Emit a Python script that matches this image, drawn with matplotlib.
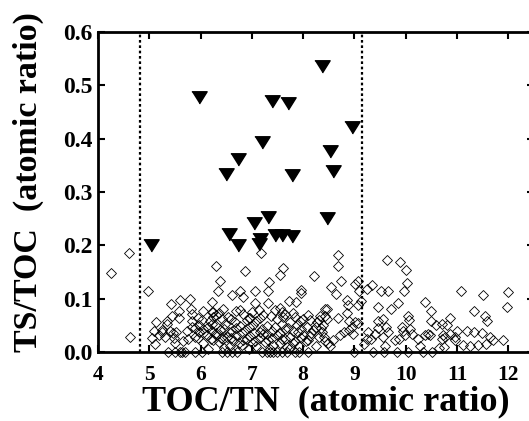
import matplotlib
matplotlib.use('Agg')
import matplotlib.pyplot as plt

plt.rcParams['font.family'] = 'Liberation Serif'
plt.rcParams['font.weight'] = 'bold'

# filled triangles
tri_x = [8.37, 5.97, 7.39, 7.71, 8.95, 7.20, 8.53, 6.72, 6.49, 7.79, 8.59,
         7.32, 8.46, 7.04, 6.55, 7.45, 7.58, 7.78, 7.16, 7.14, 6.73, 5.03]
tri_y = [0.537, 0.479, 0.470, 0.466, 0.421, 0.394, 0.376, 0.362, 0.334, 0.331, 0.339,
         0.254, 0.251, 0.242, 0.222, 0.219, 0.219, 0.218, 0.211, 0.202, 0.200, 0.200]

# open diamonds
dia_x = [4.25, 4.60, 4.62, 4.97,
         5.42, 5.58, 5.81, 5.83, 5.45, 5.57, 5.14, 5.34, 5.83, 6.02, 5.10, 5.24, 5.05, 5.18,
         5.31, 5.40, 5.49, 5.53, 5.50, 5.73, 5.83, 5.89, 5.96, 5.76, 5.96, 6.05, 6.12, 6.22,
         6.22, 5.66, 5.60, 5.79, 5.12, 5.24, 5.35, 5.47,
         7.17, 6.31, 6.87, 7.60, 7.54, 6.38, 7.34, 6.33, 6.76, 6.61, 6.83, 7.07, 7.32, 7.95,
         7.95, 8.22, 7.72, 7.86, 8.42, 7.06, 7.32, 7.55, 6.77, 6.22, 6.44, 8.10, 7.13, 7.58,
         6.25,
         6.31, 6.54, 6.83, 6.96, 7.22, 7.38, 7.65, 7.84, 8.33,
         6.18, 6.41, 6.67, 6.90, 7.09, 7.48, 7.74, 7.94, 8.13, 8.26, 8.46,
         6.28, 6.48, 6.77, 7.03, 7.29, 7.58, 7.87, 8.07, 8.39,
         6.22, 6.38, 6.61, 6.87, 7.16, 7.39, 7.65, 7.81, 8.20, 8.36,
         6.31, 6.51, 6.70, 6.96, 7.22, 7.48, 7.74, 8.00, 8.13, 8.30,
         6.25, 6.44, 6.64, 6.83, 7.06, 7.32, 7.58, 7.84, 8.10, 8.42,
         6.57, 6.80, 7.09, 7.42, 7.68, 7.91,
         6.05, 6.35, 6.70, 7.00, 7.45, 7.80,
         5.95, 6.25, 6.60, 6.95, 7.15, 7.60, 8.00,
         5.90, 6.15, 6.45, 6.70, 6.95, 7.20, 7.45, 7.70, 7.95, 8.25,
         6.05, 6.30, 6.55, 6.80, 7.05, 7.30, 7.55, 7.90,
         5.95, 6.20, 6.40, 6.60, 6.90, 7.15, 7.40, 7.65, 7.95,
         6.05, 6.35, 6.75, 7.00, 7.25, 7.55, 7.80,
         6.15, 6.45, 6.95, 7.35, 7.75,
         8.05, 8.15, 8.25, 8.35, 8.40, 8.30,
         8.68, 8.68, 8.73, 8.54, 8.64, 9.01, 9.07, 9.09, 9.24, 9.35, 9.63, 9.89, 10.00, 10.02,
         9.96, 9.51, 9.65, 8.85, 8.88, 9.06, 9.13, 8.46, 8.43, 8.67, 8.85, 8.89, 9.01, 8.95,
         8.90, 8.80, 8.72, 8.59, 8.52, 8.49, 8.98, 9.07,
         9.46, 9.72, 9.84, 10.05, 10.07, 10.37, 10.49, 10.49, 10.59, 10.71, 9.45, 9.56, 9.45,
         9.62, 9.40, 9.26, 9.32, 9.56, 9.66, 9.79, 9.86, 9.95, 9.92, 9.98, 10.08, 10.13, 10.24,
         10.37, 10.44, 10.27, 9.59, 9.19, 9.24, 10.76,
         11.07, 11.50, 12.00, 11.98, 11.33, 11.54, 11.58, 10.81, 10.87, 10.47, 10.73, 10.70,
         10.86, 10.96, 10.99, 10.96, 11.11, 11.20, 11.33, 11.48, 11.25, 11.41, 11.56, 11.64,
         11.71, 11.90, 10.64, 10.75,
         5.37, 5.50, 5.60, 5.64, 5.70, 5.89, 6.02,
         6.41, 6.51, 6.61, 6.71, 7.19, 7.29, 7.35, 7.42, 7.48, 7.58, 7.68, 7.84, 7.91, 8.10,
         8.99, 9.37, 9.58, 9.82, 10.05, 10.33, 10.52]
dia_y = [0.149, 0.185, 0.028, 0.115,
         0.090, 0.076, 0.081, 0.072, 0.067, 0.064, 0.056, 0.058, 0.059, 0.060, 0.040, 0.042,
         0.027, 0.031, 0.029, 0.040, 0.027, 0.037, 0.017, 0.040, 0.047, 0.028, 0.037, 0.025,
         0.050, 0.043, 0.031, 0.053, 0.075, 0.020, 0.098, 0.100, 0.015, 0.037, 0.053, 0.035,
         0.185, 0.162, 0.151, 0.158, 0.145, 0.134, 0.131, 0.114, 0.115, 0.107, 0.103, 0.114,
         0.114, 0.117, 0.110, 0.142, 0.095, 0.094, 0.081, 0.092, 0.092, 0.083, 0.079, 0.093,
         0.080, 0.070, 0.078, 0.075, 0.075,
         0.070, 0.066, 0.071, 0.064, 0.069, 0.067, 0.072, 0.065, 0.068,
         0.059, 0.061, 0.057, 0.060, 0.058, 0.062, 0.056, 0.059, 0.060, 0.057, 0.061,
         0.050, 0.052, 0.048, 0.051, 0.049, 0.053, 0.050, 0.047, 0.051,
         0.040, 0.042, 0.039, 0.041, 0.038, 0.040, 0.043, 0.039, 0.041, 0.038,
         0.031, 0.029, 0.032, 0.030, 0.033, 0.031, 0.028, 0.032, 0.030, 0.029,
         0.022, 0.024, 0.021, 0.023, 0.020, 0.022, 0.024, 0.021, 0.023, 0.020,
         0.012, 0.014, 0.011, 0.013, 0.010, 0.012,
         0.076, 0.074, 0.077, 0.075, 0.078, 0.074,
         0.063, 0.065, 0.062, 0.064, 0.063, 0.066, 0.062,
         0.045, 0.046, 0.044, 0.045, 0.047, 0.044, 0.046, 0.045, 0.043, 0.046,
         0.036, 0.035, 0.037, 0.035, 0.036, 0.034, 0.036, 0.037,
         0.026, 0.025, 0.027, 0.026, 0.025, 0.027, 0.026, 0.025, 0.027,
         0.017, 0.018, 0.016, 0.017, 0.018, 0.016, 0.017,
         0.006, 0.007, 0.005, 0.006, 0.007,
         0.020, 0.035, 0.012, 0.045, 0.028, 0.060,
         0.181, 0.162, 0.133, 0.121, 0.108, 0.128, 0.133, 0.115, 0.118, 0.125, 0.173, 0.169,
         0.153, 0.130, 0.114, 0.114, 0.115, 0.097, 0.089, 0.089, 0.095, 0.080, 0.067, 0.064,
         0.073, 0.059, 0.056, 0.047, 0.042, 0.037, 0.031, 0.023, 0.012, 0.017, 0.034, 0.054,
         0.085, 0.081, 0.092, 0.068, 0.060, 0.093, 0.077, 0.058, 0.050, 0.053, 0.059, 0.062,
         0.045, 0.047, 0.034, 0.037, 0.025, 0.028, 0.037, 0.022, 0.025, 0.040, 0.047, 0.031,
         0.043, 0.034, 0.025, 0.032, 0.033, 0.012, 0.012, 0.015, 0.025, 0.028,
         0.114, 0.106, 0.112, 0.084, 0.076, 0.067, 0.059, 0.050, 0.064, 0.031, 0.031, 0.025,
         0.033, 0.029, 0.039, 0.022, 0.014, 0.040, 0.037, 0.035, 0.012, 0.014, 0.015, 0.029,
         0.022, 0.023, 0.008, 0.009,
         0.0, 0.0, 0.0, 0.0, 0.0, 0.0, 0.0,
         0.0, 0.0, 0.0, 0.0, 0.0, 0.0, 0.0, 0.0, 0.0, 0.0, 0.0, 0.0, 0.0, 0.0,
         0.0, 0.0, 0.0, 0.0, 0.0, 0.0, 0.0]

# dotted boundaries
bounds = [4.82, 9.14]

fig = plt.figure(figsize=(5.29, 4.21), dpi=100)
ax = fig.add_axes([98/529, 1 - 352/421, 436/529, 320/421])

ax.plot(dia_x, dia_y, 'D', ms=4.8, mfc='none', mec='black', mew=0.6, clip_on=False)
tri = [(-1, 0.75), (1, 0.75), (0, -0.85)]
ax.plot(tri_x, tri_y, ls='none', marker=tri, ms=11, color='black')
for b in bounds:
    ax.axvline(b, color='black', ls=(0, (1.2, 1.2)), lw=1.6)

ax.set_xlim(4, 12.5)
ax.set_ylim(0, 0.6)
ax.set_xticks(range(4, 13))
ax.set_yticks([0.0, 0.1, 0.2, 0.3, 0.4, 0.5, 0.6])
ax.set_yticklabels(['0.0', '0.1', '0.2', '0.3', '0.4', '0.5', '0.6'])
ax.tick_params(direction='in', length=5, width=1.5, top=True, right=True)
ax.tick_params(axis='x', pad=9, labelsize=15.5)
ax.tick_params(axis='y', pad=4, labelsize=17)
for s in ax.spines.values():
    s.set_linewidth(2)

ax.set_xlabel('TOC/TN  (atomic ratio)', fontsize=26, fontweight='bold')
ax.set_ylabel('TS/TOC  (atomic ratio)', fontsize=24.5, fontweight='bold')
ax.xaxis.set_label_coords(0.523, -0.104)
ax.yaxis.set_label_coords(-0.124, 0.53)

fig.savefig('out.png', dpi=100)
